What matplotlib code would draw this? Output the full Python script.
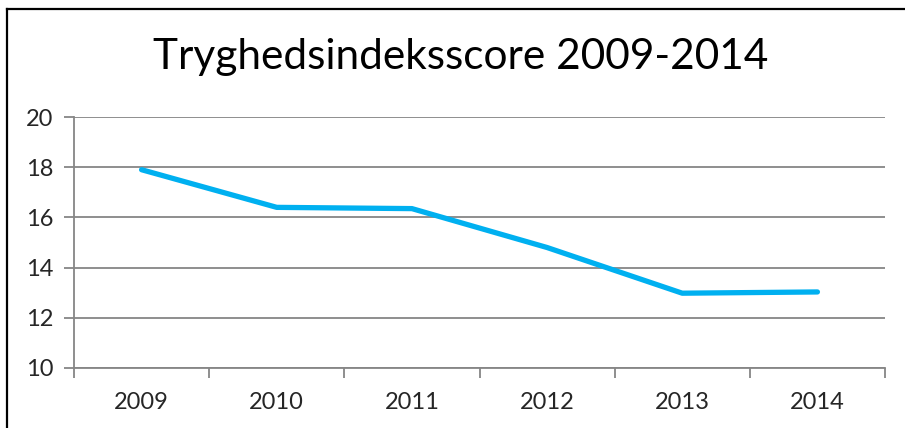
import matplotlib.pyplot as plt
import matplotlib.lines as mlines
import numpy as np

years = ['2009', '2010', '2011', '2012', '2013', '2014']
scores = [17.9, 16.4, 16.35, 14.8, 12.98, 13.03]
yticks = [10, 12, 14, 16, 18, 20]

plt.rcParams['font.family'] = ['Lato', 'DejaVu Sans']

fig = plt.figure(figsize=(9.05, 4.28), dpi=100)
ax = fig.add_axes([74 / 905, 1 - 368 / 428, 811 / 905, 251 / 428])

x = np.arange(len(years))
ax.plot(x, scores, color='#00B0F0', lw=3.8, solid_capstyle='round', solid_joinstyle='round')

grid_c = '#868686'
ax.set_ylim(10, 20)
ax.set_yticks(yticks)
ax.set_yticklabels([str(v) for v in yticks], fontsize=17, color='#262626')
ax.yaxis.grid(True, color=grid_c, lw=1.3)
ax.set_axisbelow(True)

ax.set_xlim(-0.5, len(years) - 0.5)
ax.set_xticks(x)
ax.set_xticklabels(years, fontsize=17, color='#262626')
ax.set_xticks(np.arange(-0.5, len(years)), minor=True)
ax.tick_params(axis='x', which='major', length=0, pad=17)
ax.tick_params(axis='x', which='minor', length=7, width=1.3, color=grid_c)
ax.tick_params(axis='y', length=7, width=1.3, color=grid_c, pad=8)

for s in ['top', 'right']:
    ax.spines[s].set_visible(False)
for s in ['left', 'bottom']:
    ax.spines[s].set_color(grid_c)
    ax.spines[s].set_linewidth(1.3)

fig.text(0.509, 1 - 57 / 428, 'Tryghedsindeksscore 2009-2014', ha='center', va='center',
         fontsize=30.5, color='black')

# chart border (only top and left visible in the crop)
bx, by = 7 / 905, 1 - 9 / 428
fig.add_artist(mlines.Line2D([bx, bx], [0, by], color='black', lw=1.6, transform=fig.transFigure))
fig.add_artist(mlines.Line2D([bx, 1], [by, by], color='black', lw=1.6, transform=fig.transFigure))

fig.savefig('out.png', dpi=100)
